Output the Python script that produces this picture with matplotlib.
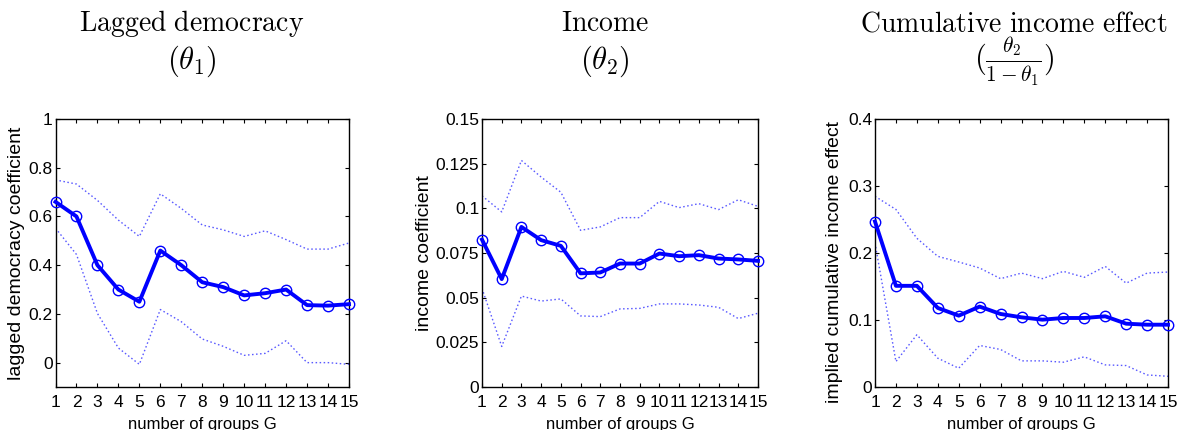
import matplotlib
matplotlib.use("Agg")
import matplotlib.pyplot as plt
import numpy as np

plt.rcParams['mathtext.fontset'] = 'cm'
plt.rcParams['font.family'] = ['Liberation Sans', 'DejaVu Sans']

groups = list(range(1, 16))
xticklabels = [str(g) for g in groups]

# Panel 1: lagged democracy coefficient
dem_est = [0.66, 0.60, 0.40, 0.30, 0.25, 0.46, 0.40, 0.33, 0.31, 0.276, 0.285, 0.30, 0.236, 0.234, 0.24]
dem_hi = [0.75, 0.733, 0.666, 0.585, 0.518, 0.693, 0.633, 0.565, 0.545, 0.518, 0.541, 0.505, 0.466, 0.466, 0.491]
dem_lo = [0.552, 0.444, 0.202, 0.06, -0.007, 0.218, 0.168, 0.097, 0.067, 0.03, 0.038, 0.09, 0.0, 0.0, -0.007]

# Panel 2: income coefficient
inc_est = [0.0825, 0.0604, 0.0896, 0.0822, 0.079, 0.0636, 0.0641, 0.0691, 0.0691, 0.0747, 0.0732, 0.0738, 0.0719, 0.0714, 0.0706]
inc_hi = [0.107, 0.098, 0.1268, 0.1175, 0.109, 0.0877, 0.0896, 0.0948, 0.0948, 0.1039, 0.1004, 0.1026, 0.0993, 0.1048, 0.1011]
inc_lo = [0.0552, 0.0227, 0.0509, 0.0481, 0.0493, 0.0398, 0.0394, 0.0437, 0.044, 0.0465, 0.0465, 0.0459, 0.0446, 0.0383, 0.0413]

# Panel 3: implied cumulative income effect
cum_est = [0.247, 0.151, 0.151, 0.118, 0.1065, 0.120, 0.109, 0.104, 0.1005, 0.103, 0.103, 0.1055, 0.0945, 0.093, 0.093]
cum_hi = [0.2846, 0.265, 0.222, 0.195, 0.1866, 0.1776, 0.1617, 0.170, 0.1617, 0.1726, 0.1637, 0.180, 0.155, 0.170, 0.1716]
cum_lo = [0.215, 0.038, 0.078, 0.043, 0.028, 0.062, 0.056, 0.039, 0.039, 0.037, 0.045, 0.033, 0.032, 0.018, 0.016]

W, H = 1178, 430
fig = plt.figure(figsize=(W / 100, H / 100), dpi=100)

def px_axes(left, right, top, bottom):
    return [left / W, (H - bottom) / H, (right - left) / W, (bottom - top) / H]

panels = [
    dict(rect=px_axes(55.5, 349, 119, 387), est=dem_est, hi=dem_hi, lo=dem_lo,
         ylim=(-0.1, 1.0), yticks=[0, 0.2, 0.4, 0.6, 0.8, 1],
         yticklabels=['0', '0.2', '0.4', '0.6', '0.8', '1'],
         ylabel='lagged democracy coefficient', ylab_xy=(-0.104, 0.5),
         title='Lagged democracy', title_x=192, sub=r'$(\theta_1)$', sub_size=22),
    dict(rect=px_axes(482, 758, 119, 387), est=inc_est, hi=inc_hi, lo=inc_lo,
         ylim=(0, 0.15), yticks=[0, 0.025, 0.05, 0.075, 0.1, 0.125, 0.15],
         yticklabels=['0', '0.025', '0.05', '0.075', '0.1', '0.125', '0.15'],
         ylabel='income coefficient', ylab_xy=(-0.178, 0.5),
         title='Income', title_x=605, sub=r'$(\theta_2)$', sub_size=22),
    dict(rect=px_axes(875, 1168, 119, 387), est=cum_est, hi=cum_hi, lo=cum_lo,
         ylim=(0, 0.4), yticks=[0, 0.1, 0.2, 0.3, 0.4],
         yticklabels=['0', '0.1', '0.2', '0.3', '0.4'],
         ylabel='implied cumulative income effect', ylab_xy=(-0.109, 0.466),
         title='Cumulative income effect', title_x=1014,
         sub=r'$(\frac{\theta_2}{1-\theta_1})$', sub_size=22),
]

dot_color = (0.35, 0.35, 1.0)
for p in panels:
    ax = fig.add_axes(p['rect'])
    ax.plot(groups, p['hi'], color=dot_color, lw=1.0, linestyle=(0, (1.1, 1.8)))
    ax.plot(groups, p['lo'], color=dot_color, lw=1.0, linestyle=(0, (1.1, 1.8)))
    ax.plot(groups, p['est'], color='#0000FF', lw=2.8, marker='o', markersize=7.5,
            markerfacecolor='none', markeredgecolor='#0000FF', markeredgewidth=1.0,
            clip_on=False, zorder=3)
    ax.set_xlim(1, 15)
    ax.set_ylim(*p['ylim'])
    ax.set_xticks(groups)
    ax.set_xticklabels(xticklabels)
    ax.set_yticks(p['yticks'])
    ax.set_yticklabels(p['yticklabels'])
    ax.tick_params(direction='in', top=True, right=True, length=3, width=0.8,
                   labelsize=12.5)
    ax.tick_params(axis='x', pad=6)
    ax.tick_params(axis='y', pad=2)
    for s in ax.spines.values():
        s.set_linewidth(1.0)
    ax.set_xlabel('number of groups G', fontsize=12)
    ax.xaxis.set_label_coords(0.5, -0.112)
    ax.set_ylabel(p['ylabel'], fontsize=14)
    ax.yaxis.set_label_coords(*p['ylab_xy'])
    fig.text(p['title_x'] / W, (H - 31) / H, r'$\mathrm{' + p['title'].replace(' ', r'\ ') + '}$',
             ha='center', va='baseline', fontsize=20)
    fig.text(p['title_x'] / W, (H - 61) / H, p['sub'], ha='center', va='center',
             fontsize=p['sub_size'])

fig.savefig('out.png', dpi=100)
